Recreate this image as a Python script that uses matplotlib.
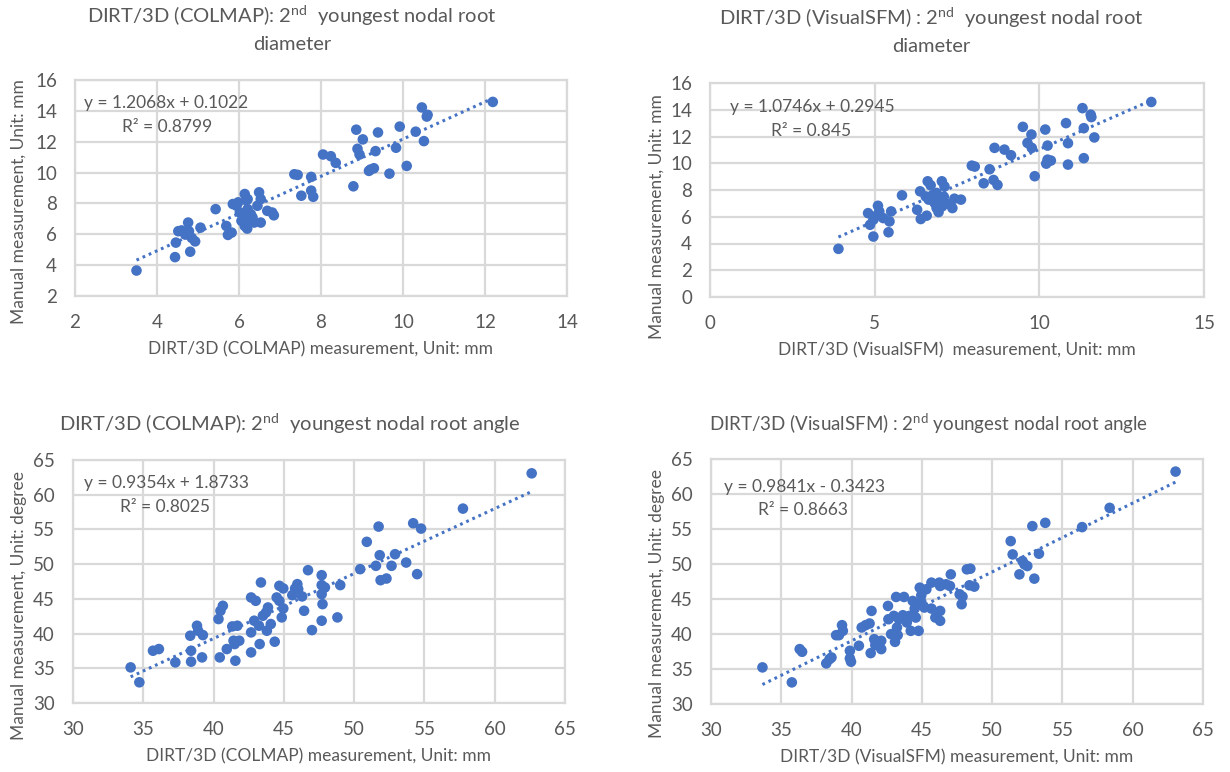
import numpy as np
import matplotlib
matplotlib.use("Agg")
import matplotlib.pyplot as plt

plt.rcParams["font.family"] = ["Lato", "DejaVu Sans"]
plt.rcParams["mathtext.fontset"] = "custom"
plt.rcParams["mathtext.rm"] = "Lato"
plt.rcParams["mathtext.it"] = "Lato:italic"

# COLMAP, diameter (x = DIRT/3D, y = manual)
colmap_diam_x = [3.50, 4.44, 4.81, 4.46, 4.52, 4.60, 4.76, 4.78, 4.85, 4.93, 4.69, 5.06, 5.43,
                 5.69, 5.73, 5.82, 5.85, 5.94, 5.98, 6.14, 6.21, 6.49, 6.53, 6.02, 6.10, 6.21,
                 6.29, 6.06, 6.14, 6.20, 6.21, 6.33, 6.37, 6.45, 6.53, 6.69, 6.81, 6.85, 6.18,
                 7.35, 7.43, 7.76, 7.52, 7.76, 7.81, 8.05, 8.24, 8.36, 8.79, 8.86, 8.89, 8.94,
                 9.02, 9.17, 9.21, 9.29, 9.33, 9.39, 9.67, 9.83, 9.92, 10.09, 10.31, 10.46,
                 10.51, 10.58, 10.60, 12.19]
colmap_diam_y = [3.65, 4.52, 4.87, 5.46, 6.20, 6.25, 6.76, 6.20, 5.76, 5.54, 5.98, 6.43, 7.63,
                 6.54, 5.96, 6.11, 7.96, 7.85, 8.07, 8.61, 8.28, 8.72, 8.28, 7.41, 7.20, 7.63,
                 7.30, 6.87, 6.54, 6.37, 6.76, 7.09, 6.76, 7.85, 6.76, 7.52, 7.41, 7.23, 8.20,
                 9.89, 9.85, 9.72, 8.50, 8.83, 8.43, 11.17, 11.06, 10.63, 9.11, 12.78, 11.54, 11.17,
                 12.15, 10.11, 10.20, 10.28, 11.39, 12.60, 9.93, 11.61, 12.98, 10.43, 12.65, 14.22,
                 12.04, 13.63, 13.74, 14.58]

# VisualSFM, diameter
vsfm_diam_x = [3.90, 4.96, 5.42, 4.80, 4.86, 4.96, 5.10, 5.14, 5.00, 5.26, 5.45, 5.50, 5.83,
               6.29, 6.40, 6.58, 6.38, 6.55, 6.61, 6.70, 6.64, 6.82, 6.88, 6.94, 6.88, 7.04,
               7.12, 7.00, 7.18, 7.05, 7.36, 7.42, 7.62, 6.75, 6.95, 7.10, 7.95, 8.04, 8.31,
               8.49, 8.61, 8.73, 8.64, 8.94, 9.14, 9.50, 9.76, 9.64, 9.77, 9.86, 10.18, 10.25,
               10.21, 10.25, 10.35, 10.81, 10.87, 10.87, 11.31, 11.35, 11.35, 11.56, 11.58,
               11.67, 13.40]
vsfm_diam_y = [3.60, 4.52, 4.84, 6.27, 5.40, 5.78, 6.82, 6.40, 6.02, 5.90, 5.65, 6.40, 7.60,
               6.52, 5.83, 6.08, 7.90, 7.52, 8.65, 8.35, 7.28, 7.03, 6.65, 6.35, 7.78, 8.65,
               8.27, 7.33, 6.98, 6.78, 6.65, 7.35, 7.28, 7.60, 7.10, 7.50, 9.82, 9.75, 8.50,
               9.55, 8.75, 8.38, 11.15, 11.02, 10.60, 12.72, 12.15, 11.52, 11.15, 9.03, 12.52, 11.32,
               9.97, 10.27, 10.20, 13.00, 11.50, 9.90, 14.12, 12.62, 10.38, 13.63, 13.45,
               11.93, 14.58]

# COLMAP, angle
colmap_ang_x = [34.10, 34.72, 35.69, 36.11, 37.28, 38.34, 38.40, 38.40, 38.82, 38.90, 39.24, 39.18,
                40.35, 40.49, 40.66, 40.44, 40.94, 41.33, 41.42, 41.50, 41.69, 41.55, 41.83, 42.67,
                43.00, 42.67, 42.67, 42.89, 43.23, 43.37, 43.28, 43.51, 43.73, 43.87, 43.79, 44.07,
                44.35, 44.49, 44.68, 44.68, 44.85, 44.96, 44.96, 45.60, 45.80, 45.96, 46.02, 46.30,
                46.44, 46.72, 47.00, 47.69, 47.69, 47.69, 47.75, 47.69, 47.92, 48.81, 49.01, 50.43,
                50.90, 51.55, 51.74, 51.82, 51.88, 52.30, 52.66, 52.91, 53.70, 54.20, 54.48, 54.76,
                57.74, 62.63]
colmap_ang_y = [35.13, 32.98, 37.53, 37.77, 35.85, 39.69, 37.53, 35.95, 41.13, 40.41, 39.78, 36.57,
                42.09, 43.28, 44.00, 36.57, 37.77, 41.03, 38.97, 38.49, 41.13, 36.09, 38.97, 45.20,
                44.72, 40.17, 37.29, 41.85, 41.13, 47.36, 38.49, 42.57, 43.04, 43.76, 40.41, 41.37,
                38.83, 45.20, 46.88, 44.72, 42.33, 46.50, 43.62, 45.54, 46.50, 47.12, 46.40, 45.35,
                43.28, 49.13, 40.50, 48.41, 46.98, 45.68, 44.24, 41.85, 46.64, 42.33, 46.98, 49.28,
                53.21, 49.76, 55.41, 51.29, 47.69, 47.93, 49.76, 51.43, 50.23, 55.89, 48.56, 55.12,
                58.00, 63.08]

# VisualSFM, angle
vsfm_ang_x = [33.66, 35.75, 36.31, 36.48, 38.20, 38.43, 38.57, 38.90, 39.10, 39.32, 39.38, 39.88,
              39.88, 39.96, 40.52, 40.72, 41.00, 41.28, 41.42, 41.36, 41.61, 41.69, 42.11, 42.11,
              42.59, 42.62, 42.81, 43.01, 43.09, 43.17, 43.23, 43.28, 43.37, 43.65, 43.73, 43.93,
              44.12, 44.21, 44.35, 44.49, 44.57, 44.77, 44.85, 44.96, 44.96, 45.18, 45.32, 45.68,
              45.68, 45.96, 46.24, 46.30, 46.30, 46.30, 46.72, 47.00, 47.06, 47.69, 47.89, 47.83,
              48.20, 48.45, 48.39, 48.73, 51.32, 51.46, 51.94, 52.16, 52.30, 52.50, 52.86, 53.00,
              53.33, 53.78, 56.40, 58.36, 63.05]
vsfm_ang_y = [35.23, 33.09, 37.84, 37.46, 35.80, 36.41, 36.65, 39.83, 39.83, 41.26, 40.45, 37.60,
              36.51, 36.04, 38.32, 40.93, 41.26, 41.50, 43.30, 37.27, 39.26, 38.41, 39.03, 37.84,
              44.01, 42.11, 39.98, 42.59, 38.88, 45.29, 40.93, 39.83, 42.11, 42.68, 45.29, 41.64,
              42.59, 40.45, 44.72, 43.63, 42.35, 40.45, 46.62, 45.53, 44.58, 43.78, 46.39, 47.34,
              43.63, 42.35, 47.34, 46.86, 41.88, 43.30, 47.10, 46.86, 48.52, 45.67, 45.34, 44.25,
              49.24, 49.33, 46.96, 46.77, 53.27, 51.37, 48.52, 50.42, 49.95, 49.71, 55.41, 47.91,
              51.47, 55.88, 55.27, 58.02, 63.20]

# trendline coefficients as printed on the chart
slopes = [1.2068, 1.0746, 0.9354, 0.9841]
intercepts = [0.1022, 0.2945, 1.8733, -0.3423]
eq_labels = ["y = 1.2068x + 0.1022", "y = 1.0746x + 0.2945",
             "y = 0.9354x + 1.8733", "y = 0.9841x - 0.3423"]
r2_labels = ["R² = 0.8799", "R² = 0.845", "R² = 0.8025", "R² = 0.8663"]

xlabels = ["DIRT/3D (COLMAP) measurement, Unit: mm",
           "DIRT/3D (VisualSFM)  measurement, Unit: mm",
           "DIRT/3D (COLMAP) measurement, Unit: mm",
           "DIRT/3D (VisualSFM) measurement, Unit: mm"]
ylabels = ["Manual measurement, Unit: mm", "Manual measurement, Unit: mm",
           "Manual measurement, Unit: degree", "Manual measurement, Unit: degree"]

W, H = 1230, 772
BLUE = "#4472C4"
GREY = "#595959"
GRID = "#D9D9D9"

fig = plt.figure(figsize=(W / 100, H / 100), dpi=100)


def px_axes(left, top, right, bottom):
    return fig.add_axes([left / W, 1 - bottom / H, (right - left) / W, (bottom - top) / H])


def ftext(x, y, s, **kw):
    fig.text(x / W, 1 - y / H, s, color=GREY, **kw)


panels = [
    dict(box=(75, 80, 567, 296), x=colmap_diam_x, y=colmap_diam_y,
         xlim=(2, 14), xt=np.arange(2, 15, 2), ylim=(2, 16), yt=np.arange(2, 17, 2),
         eq=(0.018, 0.894), r2=(0.096, 0.782)),
    dict(box=(710, 83, 1204, 297), x=vsfm_diam_x, y=vsfm_diam_y,
         xlim=(0, 15), xt=np.arange(0, 16, 5), ylim=(0, 16), yt=np.arange(0, 17, 2),
         eq=(0.040, 0.888), r2=(0.123, 0.776)),
    dict(box=(73, 460, 565, 703), x=colmap_ang_x, y=colmap_ang_y,
         xlim=(30, 65), xt=np.arange(30, 66, 5), ylim=(30, 65), yt=np.arange(30, 66, 5),
         eq=(0.022, 0.905), r2=(0.096, 0.807)),
    dict(box=(711, 459, 1203, 704), x=vsfm_ang_x, y=vsfm_ang_y,
         xlim=(30, 65), xt=np.arange(30, 66, 5), ylim=(30, 65), yt=np.arange(30, 66, 5),
         eq=(0.026, 0.886), r2=(0.096, 0.792)),
]

for i, p in enumerate(panels):
    ax = px_axes(*p["box"])
    ax.set_xlim(*p["xlim"])
    ax.set_ylim(*p["ylim"])
    ax.set_xticks(p["xt"])
    ax.set_yticks(p["yt"])
    ax.grid(True, color=GRID, lw=1.6)
    ax.set_axisbelow(True)
    for s in ax.spines.values():
        s.set_color(GRID)
        s.set_linewidth(1.6)
    ax.tick_params(length=0, labelsize=13.5, labelcolor=GREY, pad=13)

    x = np.array(p["x"])
    y = np.array(p["y"])
    ax.scatter(x, y, s=58, color=BLUE, edgecolor="none", zorder=3)
    xs = np.array([x.min(), x.max()])
    ax.plot(xs, slopes[i] * xs + intercepts[i], color=BLUE, lw=2.2,
            linestyle=(0, (0.9, 1.3)), zorder=2)

    ax.text(*p["eq"], eq_labels[i], transform=ax.transAxes, fontsize=12.5,
            color=GREY, va="center", ha="left")
    ax.text(*p["r2"], r2_labels[i], transform=ax.transAxes, fontsize=12.5,
            color=GREY, va="center", ha="left")

    l, t, r, b = p["box"]
    ftext((l + r) / 2, b + 53, xlabels[i], fontsize=12.5, ha="center", va="center")

# y axis labels
ftext(19, 202, ylabels[0], fontsize=12.5, rotation=90, ha="center", va="center")
ftext(657, 217, ylabels[1], fontsize=12.5, rotation=90, ha="center", va="center")
ftext(19, 605, ylabels[2], fontsize=12.5, rotation=90, ha="center", va="center")
ftext(657, 604, ylabels[3], fontsize=12.5, rotation=90, ha="center", va="center")

# titles
nd = r"$\mathrm{2}^{\mathrm{nd}}$"
ftext(292, 16, "DIRT/3D (COLMAP): " + nd + "  youngest nodal root", fontsize=14.5,
      ha="center", va="center")
ftext(292, 45, "diameter", fontsize=14.5, ha="center", va="center")
ftext(931, 18, "DIRT/3D (VisualSFM) : " + nd + "  youngest nodal root", fontsize=14.5,
      ha="center", va="center")
ftext(931, 47, "diameter", fontsize=14.5, ha="center", va="center")
ftext(290, 424, "DIRT/3D (COLMAP): " + nd + "  youngest nodal root angle", fontsize=14.5,
      ha="center", va="center")
ftext(929, 424, "DIRT/3D (VisualSFM) : " + nd + " youngest nodal root angle", fontsize=13.5,
      ha="center", va="center")

fig.savefig("out.png", dpi=100, facecolor="white")
